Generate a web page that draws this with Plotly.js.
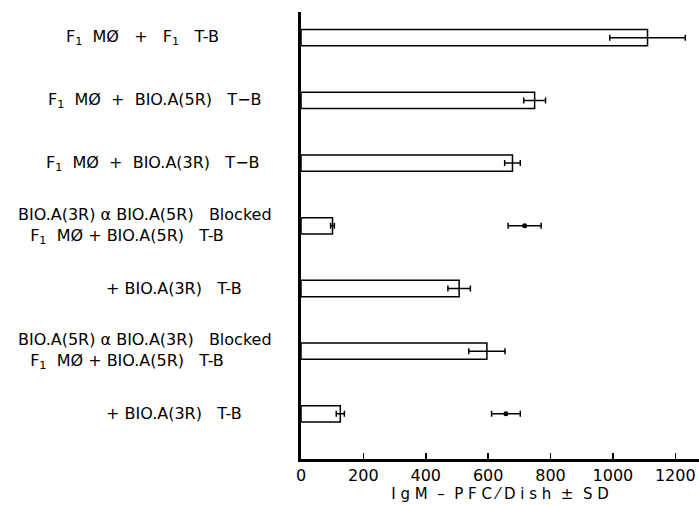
<!DOCTYPE html>
<html>
<head>
<meta charset="utf-8">
<script src="https://cdn.plot.ly/plotly-3.0.1.min.js"></script>
<style>html,body{margin:0;padding:0;background:#fff;}#chart{width:699px;height:506px;}</style>
</head>
<body>
<div id="chart"></div>
<script>
// ---- data ----
const categoryIds = ["c1", "c2", "c3", "c4", "c5", "c6", "c7"];
const categoryLabels = [
  "F<sub>1</sub>\u00A0\u00A0MØ\u00A0\u00A0\u00A0+\u00A0\u00A0\u00A0F<sub>1</sub>\u00A0\u00A0\u00A0T-B",
  "F<sub>1</sub>\u00A0\u00A0MØ\u00A0\u00A0+\u00A0\u00A0BIO.A(5R)\u00A0\u00A0\u00A0T−B",
  "F<sub>1</sub>\u00A0\u00A0MØ\u00A0\u00A0+\u00A0\u00A0BIO.A(3R)\u00A0\u00A0\u00A0T−B",
  "BIO.A(3R)\u00A0α\u00A0BIO.A(5R)\u00A0\u00A0\u00A0Blocked<br>F<sub>1</sub>\u00A0\u00A0MØ\u00A0+\u00A0BIO.A(5R)\u00A0\u00A0\u00A0T-B\u00A0\u00A0\u00A0\u00A0\u00A0\u00A0\u00A0",
  "+\u00A0BIO.A(3R)\u00A0\u00A0\u00A0T-B",
  "BIO.A(5R)\u00A0α\u00A0BIO.A(3R)\u00A0\u00A0\u00A0Blocked<br>F<sub>1</sub>\u00A0\u00A0MØ\u00A0+\u00A0BIO.A(5R)\u00A0\u00A0\u00A0T-B\u00A0\u00A0\u00A0\u00A0\u00A0\u00A0\u00A0",
  "+\u00A0BIO.A(3R)\u00A0\u00A0\u00A0T-B"
];
const pfcMean = [1111, 749, 678, 101, 507, 596, 126];
const pfcSD   = [121, 35, 25, 6, 36, 58, 13];
const dotCategories = ["c4", "c7"];
const dotMean = [717, 657];
const dotSD   = [53, 46];
const xTickVals = [0, 200, 400, 600, 800, 1000, 1200];
const xTickText = ["0", "200", "400", "600", "800", "1000", "1200"];

// ---- layout helpers ----
const ML = 301, PW = 398;
const labelCenterPx = [142, 155, 153, 145, 174, 145, 174];
const font = "DejaVu Sans, sans-serif";

const traces = [
  {
    type: "bar", orientation: "h",
    y: categoryIds, x: pfcMean,
    width: 0.26,
    marker: { color: "#ffffff", line: { color: "#000", width: 1.5 } },
    error_x: { type: "data", array: pfcSD, visible: true, color: "#000", thickness: 1.5, width: 3 },
    hoverinfo: "x"
  },
  {
    type: "scatter", mode: "markers",
    y: dotCategories, x: dotMean,
    marker: { color: "#000", size: 5 },
    error_x: { type: "data", array: dotSD, visible: true, color: "#000", thickness: 1.5, width: 3 }
  }
];

const annotations = categoryLabels.map((t, i) => ({
  text: t, xref: "paper", yref: "y",
  x: (labelCenterPx[i] - ML) / PW, y: categoryIds[i],
  xanchor: "center", yanchor: "middle", align: "center",
  showarrow: false,
  font: { family: font, size: 16, color: "#000" }
}));

const layout = {
  width: 699, height: 506,
  margin: { l: ML, r: 0, t: 12, b: 47 },
  paper_bgcolor: "#fff", plot_bgcolor: "#fff",
  showlegend: false,
  xaxis: {
    range: [0, 1276],
    tickvals: xTickVals, ticktext: xTickText,
    ticks: "inside", ticklen: 6, tickwidth: 1.5, tickcolor: "#000",
    showline: true, linewidth: 3, linecolor: "#000",
    showgrid: false, zeroline: false,
    tickfont: { family: font, size: 16, color: "#000" },
    title: { text: "I g M\u00A0 –\u00A0 P F C ⁄ D i s h\u00A0 ±\u00A0 S D", font: { family: font, size: 15, color: "#000" }, standoff: 0 }
  },
  yaxis: {
    type: "category",
    categoryorder: "array", categoryarray: categoryIds,
    range: [6.72, -0.41],
    showticklabels: false, ticks: "",
    showline: true, linewidth: 3, linecolor: "#000",
    showgrid: false, zeroline: false
  },
  annotations: annotations
};

Plotly.newPlot("chart", traces, layout, { displayModeBar: false, staticPlot: true });
</script>
</body>
</html>
